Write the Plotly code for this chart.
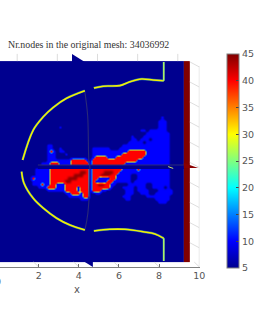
import re
import plotly.graph_objects as go

title_text = "Nr.nodes in the original mesh: 34036992"
x_ticks = [2, 4, 6, 8, 10]
cbar_ticks = [5, 10, 15, 20, 25, 30, 35, 40, 45]

levels = {".": 5, "b": 10, "r": 40, "d": 44}
field_rows = [
    "46.1b", "45.3b", "45.3b", "12.1b32.3b", "39.2b1.6b", "41.8b", "36.1b3.9b",
    "36.2b1.3b1.6b", "35.5b1.8b", "8.2b23.16b", "8.2b2.1b10.6b3.17b",
    "8.1b1r1b1.2b9.12b6r8b", "8.3b3.1b8.10b8r8b", "8.3b12.1b4r3b9r9b",
    "8.8b5r1b1.15r11b", "6.3b3r4b6r1.11r15b", "6.3b3r4b6r1.10r16b",
    "4.5b13r1.10r5b1r10b", "4.5b10r2d1r1.4r3d2r17b",
    "4.5b8r3d2r1.3r3d2r5b2.11b", "3.1r5b6r3d4r1.2r4b2r5b2.11b",
    "3.6b5r2d6r1.1r4b2r6b1.12b", "3.3b1r2b2r3b8r1.2r2d2r2b4.6b2.6b",
    "5.3b3r3b4r1b3r1.6r1b3.4b1.3b2.4b1.1b", "8.6b4r1b3r1.3r2b6.3b1.4b3.5b",
    "14.2b3r1b2r2.2b8.3b2.3b2.6b", "15.5b2r11.3b5.8b", "19.3b12.2b8.5b", "45.3b", "", "", "",
]
N_COLS = 52


def decode(row):
    vals = []
    for n, c in re.findall(r"(\d+)(\D)", row):
        vals += [levels[c]] * int(n)
    return (vals + [5] * N_COLS)[:N_COLS]


field_z = [decode(r) for r in field_rows]

arc_up_x = [4.30, 3.39, 2.73, 2.23, 1.73, 1.20]
arc_up_y = [3.75, 3.37, 2.92, 2.45, 1.79, 0.30]
arc_lo_x = [1.15, 1.27, 1.73, 2.23, 2.90, 3.56, 4.30]
arc_lo_y = [-0.28, -0.86, -1.61, -2.10, -2.60, -2.94, -3.18]
top_x = [4.75, 5.21, 6.04, 6.54, 7.12, 7.70, 8.23]
top_y = [3.88, 3.97, 4.00, 4.19, 4.33, 4.28, 4.24]
bot_x = [4.75, 5.55, 6.29, 7.20, 7.79, 8.23]
bot_y = [-3.23, -3.15, -3.15, -3.27, -3.38, -3.60]
stem_top_x, stem_top_y = [8.23, 8.23], [4.24, 5.17]
stem_bot_x, stem_bot_y = [8.23, 8.23], [-3.60, -4.73]
slice_x = [4.30, 4.44, 4.50, 4.55, 4.45, 4.30]
slice_y = [3.70, 2.50, 0.30, -0.05, -2.35, -3.20]
wall_right_y = [4.93, 3.93, 2.93, 1.93, 0.93, -0.07, -1.07, -2.07, -3.07, -4.07]

JET = [[0, "#00008f"], [0.125, "#0000ff"], [0.375, "#00ffff"],
       [0.625, "#ffff00"], [0.875, "#ff0000"], [1, "#800000"]]
# sharper ramp for the smoothed field, so edges stay as thin as in the picture
FIELD = [[(v - 5) / 40, c] for v, c in [
    (5, "#00008f"), (7, "#00008f"), (8.5, "#0000f0"), (10, "#0000ff"), (21, "#0000ff"),
    (23, "#00e0ff"), (25, "#c0ff40"), (26, "#ffff00"), (28, "#ff0000"), (40, "#ff0000"),
    (43, "#a00000"), (45, "#800000")]]
W, H = 254, 331
fig = go.Figure()


def line(xs, ys, color, width, shape="linear"):
    fig.add_trace(go.Scatter(x=xs, y=ys, mode="lines", hoverinfo="skip",
                             line=dict(color=color, width=width, shape=shape)))


def poly(xs, ys, color):
    fig.add_trace(go.Scatter(x=xs, y=ys, mode="lines", fill="toself", hoverinfo="skip",
                             fillcolor=color, line=dict(width=0, color=color)))


# background faint grid
for t in x_ticks:
    line([t - 1.07, t - 1.07], [5.22, 5.58], "#dcdcdc", 1)
    line([t - 0.25, t], [-4.78, -5.02], "#dcdcdc", 1)
for yr in wall_right_y:
    line([9.53, 10], [yr + 0.25, yr], "#dedede", 1)
line([10, 10], [4.98, -5.02], "#dcdcdc", 1)

# mesh
fig.add_trace(go.Heatmap(z=[[5]], x=[0.07, 9.23], y=[-4.78, 5.22], zmin=5, zmax=45,
                         colorscale=JET, hoverinfo="skip",
                         colorbar=dict(thicknessmode="pixels", thickness=12, lenmode="pixels", len=214,
                                       x=227 / W, xanchor="left", xpad=0, y=1 - 54 / H, yanchor="top", ypad=0,
                                       tickmode="array", tickvals=cbar_ticks, ticks="inside", ticklen=3,
                                       tickcolor="#444", outlinecolor="#808080", outlinewidth=1,
                                       tickfont=dict(family="DejaVu Sans", size=9.5, color="#555"))))
fig.add_trace(go.Heatmap(z=[[45]], x=[9.23, 9.53], y=[-4.78, 5.22], zmin=5, zmax=45,
                         colorscale=JET, showscale=False, hoverinfo="skip"))
fig.add_trace(go.Heatmap(z=field_z, x0=1.269, dx=0.1493, y0=2.388, dy=-0.1493, zmin=5, zmax=45,
                         colorscale=FIELD, zsmooth="best", hoverinfo="skip", showscale=False))

# slices
poly([1.96, 9.23, 9.23, 1.96], [0.05, 0.05, -0.15, -0.15], "#00008f")
line([1.96, 9.23], [0.05, 0.05], "#2a2a78", 1)
line(slice_x, slice_y, "#2a2a78", 1.1, "spline")
poly([3.66, 3.66, 4.30], [5.57, 5.17, 5.17], "#00008f")
poly([4.30, 4.70, 4.70], [-4.78, -4.78, -5.02], "#00008f")
poly([9.23, 9.95, 9.23], [0.15, -0.10, -0.10], "#8b0000")
line([8.45, 8.7], [-0.03, -0.12], "#c8e060", 1)

# curves
for xs, ys in [(arc_up_x, arc_up_y), (arc_lo_x, arc_lo_y), (top_x, top_y), (bot_x, bot_y)]:
    line(xs, ys, "rgba(60,190,190,0.55)", 2.4, "spline")
    line(xs, ys, "#f4f000", 1.6, "spline")
for xs, ys in [(stem_top_x, stem_top_y), (stem_bot_x, stem_bot_y)]:
    line(xs, ys, "rgba(60,190,190,0.5)", 2.4)
    line(xs, ys, "#b8f860", 1.4)

fig.update_layout(
    width=W, height=H, margin=dict(l=0, r=0, t=0, b=0, autoexpand=False), paper_bgcolor="white", plot_bgcolor="white",
    showlegend=False,
    xaxis=dict(domain=[0, 199.5 / W], range=[0.0746, 10.01], anchor="free", position=(H - 267) / H,
               tickmode="array", tickvals=x_ticks, ticks="inside", ticklen=3, tickcolor="#707070",
               showline=True, linecolor="#808080", linewidth=1, showgrid=False, zeroline=False,
               tickfont=dict(family="DejaVu Sans", size=9.5, color="#555")),
    yaxis=dict(domain=[0, 1], range=[-8.21, 8.26], visible=False),
    annotations=[
        dict(text=title_text, xref="paper", yref="paper", x=5.5 / W, y=1 - 45 / H, xanchor="left", yanchor="middle",
             showarrow=False, font=dict(family="Liberation Serif", size=9.9, color="#333")),
        dict(text="x", xref="paper", yref="paper", x=77 / W, y=1 - 289 / H, xanchor="center", yanchor="middle",
             showarrow=False, font=dict(family="DejaVu Sans", size=10, color="#555")),
        dict(text="0", xref="paper", yref="paper", x=-2 / W, y=1 - 281 / H, xanchor="center", yanchor="middle",
             showarrow=False, font=dict(family="DejaVu Sans", size=9.5, color="#555")),
    ],
)
fig.write_html("out.html", config={"displayModeBar": False},
               post_script="document.body.style.margin='0';document.body.style.overflow='hidden';")
